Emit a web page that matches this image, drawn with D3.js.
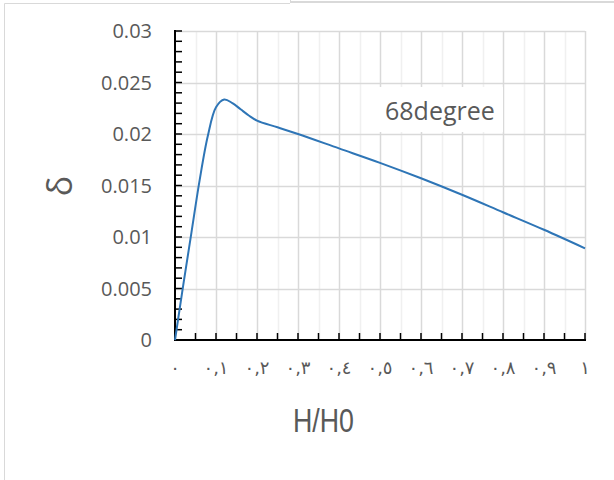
<!DOCTYPE html>
<html>
<head>
<meta charset="utf-8">
<script src="https://cdn.jsdelivr.net/npm/d3@7"></script>
<style>
  html, body { margin: 0; padding: 0; background: #fff; }
  svg { display: block; }
</style>
</head>
<body>
<div id="chart"></div>
<script>
// data
const hRatio = [0, 0.02, 0.04, 0.06, 0.08, 0.1, 0.12, 0.14, 0.16, 0.18, 0.2, 0.25, 0.3, 0.4, 0.5, 0.6, 0.7, 0.8, 0.9, 1.0];
const delta  = [0, 0.0053, 0.0104, 0.0155, 0.0198, 0.0226, 0.02335, 0.0230, 0.0224, 0.0218, 0.0213, 0.02065, 0.0200, 0.0186, 0.0172, 0.0157, 0.0141, 0.0124, 0.0107, 0.0089];
const yTicks = [0, 0.005, 0.01, 0.015, 0.02, 0.025, 0.03];
const xTickLabels = ["٠", "٠,١", "٠,٢", "٠,٣", "٠,٤", "٠,٥", "٠,٦", "٠,٧", "٠,٨", "٠,٩", "١"];
const seriesLabel = "68degree";

const width = 614, height = 480;
const plot = {left: 175, right: 585, top: 31, bottom: 340};

const svg = d3.select('#chart').append('svg')
    .attr('width', width)
    .attr('height', height);

// chart frame bits
svg.append('line').attr('x1', 4.5).attr('y1', 3.5).attr('x2', 4.5).attr('y2', height)
    .style('stroke', '#d9d9d9').style('stroke-width', 1);
svg.append('line').attr('x1', 4.5).attr('y1', 3.5).attr('x2', 290).attr('y2', 3.5)
    .style('stroke', '#d9d9d9').style('stroke-width', 1);
svg.append('line').attr('x1', 290.5).attr('y1', 0).attr('x2', 290.5).attr('y2', 3)
    .style('stroke', '#d9d9d9').style('stroke-width', 1);
svg.append('line').attr('x1', 291).attr('y1', 2).attr('x2', width).attr('y2', 2)
    .style('stroke', '#d9d9d9').style('stroke-width', 2);

const x = d3.scaleLinear().domain([0, 1]).range([plot.left, plot.right]);
const y = d3.scaleLinear().domain([0, 0.03]).range([plot.bottom, plot.top]);

// vertical gridlines every 0.05
const xGrid = d3.range(0, 21).map(i => i * 0.05);
svg.append('g').selectAll('line')
    .data(xGrid.slice(1))
    .enter().append('line')
    .attr('x1', d => Math.round(x(d)) + 0.5)
    .attr('x2', d => Math.round(x(d)) + 0.5)
    .attr('y1', plot.top)
    .attr('y2', plot.bottom)
    .style('stroke', (d, i) => i % 2 === 0 ? '#f0f0f0' : '#d9d9d9')
    .style('stroke-width', 1.5);

// horizontal gridlines
svg.append('g').selectAll('line')
    .data(yTicks.slice(1))
    .enter().append('line')
    .attr('x1', plot.left)
    .attr('x2', plot.right)
    .attr('y1', d => Math.round(y(d)) + 0.5)
    .attr('y2', d => Math.round(y(d)) + 0.5)
    .style('stroke', '#d9d9d9')
    .style('stroke-width', 1.5);

// label box with white background
const lblG = svg.append('g');
lblG.append('rect')
    .attr('x', 370).attr('y', 87).attr('width', 133).attr('height', 45)
    .style('fill', '#fff');
lblG.append('text')
    .attr('x', 385).attr('y', 120)
    .text(seriesLabel)
    .style('font-family', '"Open Sans", sans-serif')
    .style('font-size', '25px')
    .style('fill', '#595959');

// y axis: minor ticks every 0.001, pointing inside
const yMinor = d3.range(0, 31).map(i => i * 0.001);
svg.append('g').selectAll('line')
    .data(yMinor)
    .enter().append('line')
    .attr('x1', plot.left)
    .attr('x2', plot.left + 7)
    .attr('y1', d => y(d))
    .attr('y2', d => y(d))
    .style('stroke', '#000')
    .style('stroke-width', 1.5);

// x axis ticks every 0.05 pointing up
svg.append('g').selectAll('line')
    .data(xGrid)
    .enter().append('line')
    .attr('x1', d => x(d))
    .attr('x2', d => x(d))
    .attr('y1', plot.bottom)
    .attr('y2', plot.bottom - 7)
    .style('stroke', '#000')
    .style('stroke-width', 1.5);

// axis lines
svg.append('line').attr('x1', plot.left).attr('x2', plot.left)
    .attr('y1', plot.top - 1).attr('y2', plot.bottom + 1)
    .style('stroke', '#000').style('stroke-width', 2);
svg.append('line').attr('x1', plot.left - 1).attr('x2', plot.right + 1)
    .attr('y1', plot.bottom).attr('y2', plot.bottom)
    .style('stroke', '#000').style('stroke-width', 2);

// y tick labels
svg.append('g').selectAll('text')
    .data(yTicks)
    .enter().append('text')
    .attr('x', 152)
    .attr('y', d => y(d))
    .attr('dy', '0.36em')
    .attr('text-anchor', 'end')
    .text(d => d3.format('')(d))
    .style('font-family', '"Open Sans", sans-serif')
    .style('font-size', '20px')
    .style('fill', '#595959');

// x tick labels
svg.append('g').selectAll('text')
    .data(xTickLabels)
    .enter().append('text')
    .attr('x', (d, i) => x(i / 10))
    .attr('y', 374)
    .attr('text-anchor', 'middle')
    .text(d => d)
    .style('font-family', '"DejaVu Sans", sans-serif')
    .style('font-size', '18px')
    .style('letter-spacing', '2px')
    .style('fill', '#595959');

// axis titles
svg.append('text')
    .attr('transform', 'translate(72,186) rotate(-90)')
    .attr('text-anchor', 'middle')
    .text('δ')
    .style('font-family', '"Open Sans", sans-serif')
    .style('font-size', '34px')
    .style('fill', '#595959');

svg.append('text')
    .attr('x', 293)
    .attr('y', 432)
    .attr('textLength', 61)
    .attr('lengthAdjust', 'spacingAndGlyphs')
    .text('H/H0')
    .style('font-family', '"Liberation Sans", sans-serif')
    .style('font-size', '34px')
    .style('fill', '#595959');

// the series
const line = d3.line()
    .x(d => x(d[0]))
    .y(d => y(d[1]))
    .curve(d3.curveCatmullRom.alpha(0.5));

svg.append('path')
    .datum(d3.zip(hRatio, delta))
    .attr('d', line)
    .style('fill', 'none')
    .style('stroke', '#2e75b6')
    .style('stroke-width', 2);
</script>
</body>
</html>
